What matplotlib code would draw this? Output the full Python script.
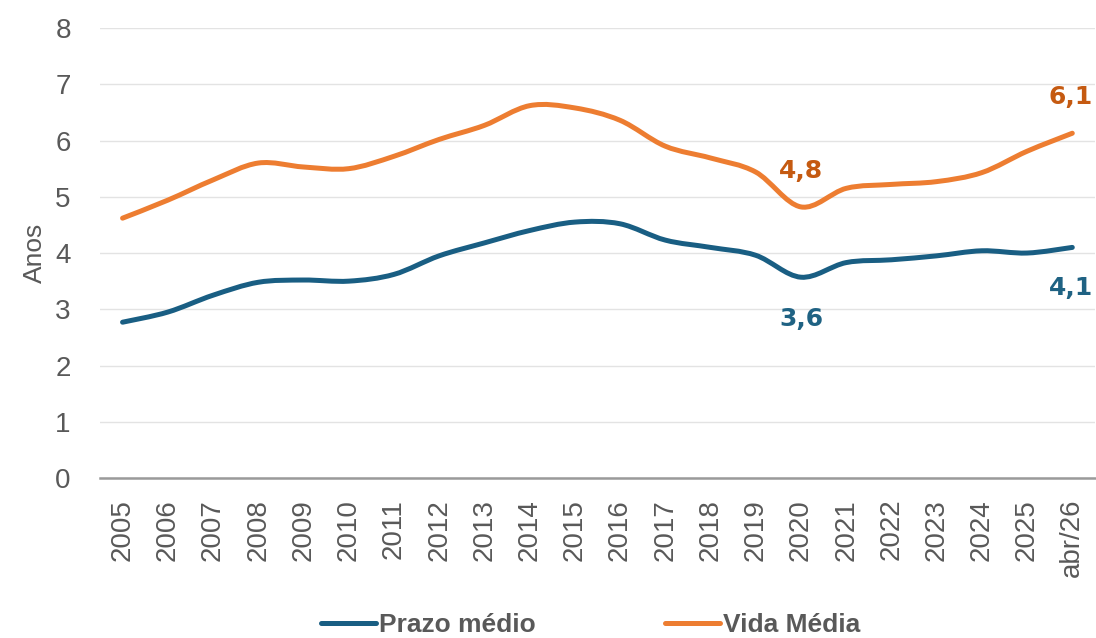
import matplotlib
matplotlib.use("Agg")
import matplotlib.pyplot as plt
from matplotlib.path import Path
from matplotlib.patches import PathPatch
from matplotlib.lines import Line2D

# Data
years = ["2005", "2006", "2007", "2008", "2009", "2010", "2011", "2012",
         "2013", "2014", "2015", "2016", "2017", "2018", "2019", "2020",
         "2021", "2022", "2023", "2024", "2025", "abr/26"]
prazo_medio = [2.77, 2.95, 3.25, 3.48, 3.52, 3.50, 3.62, 3.95, 4.18, 4.40,
               4.55, 4.52, 4.23, 4.10, 3.96, 3.57, 3.83, 3.88, 3.95, 4.04,
               4.00, 4.10]
vida_media = [4.62, 4.94, 5.30, 5.60, 5.53, 5.50, 5.72, 6.02, 6.27, 6.62,
              6.58, 6.36, 5.90, 5.69, 5.44, 4.82, 5.15, 5.22, 5.27, 5.43,
              5.81, 6.13]

BLUE = "#195e83"
BLUE_LABEL = "#1f6283"
ORANGE = "#ed7d31"
ORANGE_LABEL = "#c55a11"
GREY = "#595959"


def smooth_path(xs, ys):
    """Excel-style smoothed line as cubic Bezier segments."""
    pts = list(zip(xs, ys))
    verts = [pts[0]]
    codes = [Path.MOVETO]
    n = len(pts)
    for i in range(n - 1):
        p0 = pts[i - 1] if i > 0 else pts[i]
        p1 = pts[i]
        p2 = pts[i + 1]
        p3 = pts[i + 2] if i + 2 < n else pts[i + 1]
        c1 = (p1[0] + (p2[0] - p0[0]) / 6, p1[1] + (p2[1] - p0[1]) / 6)
        c2 = (p2[0] - (p3[0] - p1[0]) / 6, p2[1] - (p3[1] - p1[1]) / 6)
        verts += [c1, c2, p2]
        codes += [Path.CURVE4] * 3
    return Path(verts, codes)


fig = plt.figure(figsize=(10.96, 6.38), dpi=100)
ax = fig.add_axes([0.0912, 0.2508, 0.9078, 0.7052])

x = list(range(len(years)))
for vals, color in [(prazo_medio, BLUE), (vida_media, ORANGE)]:
    patch = PathPatch(smooth_path(x, vals), facecolor="none", edgecolor=color,
                      linewidth=3.6, capstyle="round", joinstyle="round", zorder=3)
    ax.add_patch(patch)

ax.set_xlim(-0.5, len(years) - 0.5)
ax.set_ylim(0, 8)
ax.set_yticks(range(0, 9))
ax.set_xticks(x)
ax.set_xticklabels(years, rotation=90, fontsize=20, color=GREY,
                   family="Liberation Sans")
for lbl in ax.get_yticklabels():
    lbl.set_fontsize(20)
    lbl.set_color(GREY)
    lbl.set_family("Liberation Sans")

ax.grid(axis="y", color="#e3e3e3", linewidth=1)
ax.set_axisbelow(True)
for side in ["top", "right", "left"]:
    ax.spines[side].set_visible(False)
ax.spines["bottom"].set_color("#9a9a9a")
ax.spines["bottom"].set_linewidth(1.8)
ax.tick_params(axis="y", length=0, pad=21)
ax.tick_params(axis="x", length=0, pad=15)

ax.set_ylabel("Anos", fontsize=19, color=GREY, family="Liberation Sans", labelpad=6)

# Data labels
label_kw = dict(textcoords="offset points", ha="center", va="center",
                fontsize=18, fontweight="bold", family="DejaVu Sans")
i20 = years.index("2020")
il = len(years) - 1
ax.annotate("4,8", (i20, vida_media[i20]), xytext=(0, 26), color=ORANGE_LABEL, **label_kw)
ax.annotate("6,1", (il, vida_media[il]), xytext=(-1, 26), color=ORANGE_LABEL, **label_kw)
ax.annotate("3,6", (i20, prazo_medio[i20]), xytext=(0, -30), color=BLUE_LABEL, **label_kw)
ax.annotate("4,1", (il, prazo_medio[il]), xytext=(-1, -29), color=BLUE_LABEL, **label_kw)

handles = [Line2D([], [], color=BLUE, linewidth=3.6, solid_capstyle="round"),
           Line2D([], [], color=ORANGE, linewidth=3.6, solid_capstyle="round")]
leg = fig.legend(handles, ["Prazo médio", "Vida Média"], loc="center",
                 bbox_to_anchor=(0.539, 0.02), ncol=2, frameon=False,
                 handlelength=2.08, handletextpad=0.12, columnspacing=4.9,
                 prop={"family": "Liberation Sans", "weight": "bold", "size": 19})
for t in leg.get_texts():
    t.set_color(GREY)

fig.savefig("out.png", dpi=100, facecolor="white")
